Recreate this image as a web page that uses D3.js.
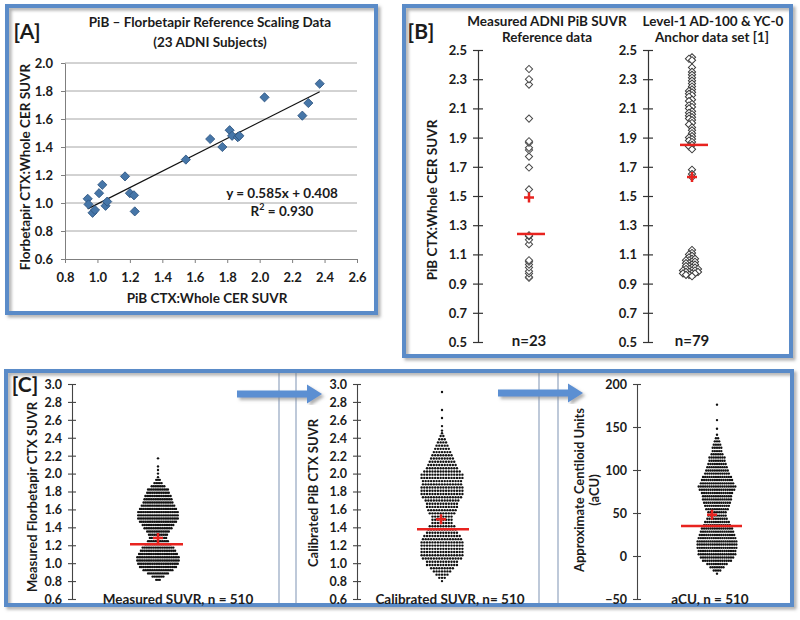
<!DOCTYPE html>
<html><head><meta charset="utf-8">
<script src="https://cdn.jsdelivr.net/npm/d3@7"></script>
<style>
html,body{margin:0;padding:0;background:#fff;}
svg{display:block;font-family:Lato,"Open Sans",sans-serif;font-weight:700;}
</style></head>
<body><svg id="c" width="800" height="620"></svg>
<script>
// ---------- DATA ----------
// Panel A: PiB vs Florbetapir (23 ADNI subjects)
const pibA = [0.94,0.945,0.97,0.985,1.01,1.03,1.05,1.06,1.17,1.20,1.225,1.23,1.545,1.695,1.77,1.815,1.83,1.865,1.875,2.03,2.263,2.30,2.37];
const fbpA = [1.03,0.99,0.93,0.95,1.07,1.13,0.98,1.01,1.19,1.07,1.055,0.94,1.31,1.457,1.40,1.52,1.48,1.47,1.48,1.755,1.624,1.714,1.852];
const fitCoef = [0.585, 0.408];   // slope, intercept
const aXTicks = [0.8,1.0,1.2,1.4,1.6,1.8,2.0,2.2,2.4,2.6];
const aYTicks = [0.6,0.8,1.0,1.2,1.4,1.6,1.8,2.0];

// Panel B
const refPiB = [0.94,0.945,0.97,0.985,1.01,1.03,1.05,1.06,1.17,1.20,1.225,1.23,1.545,1.695,1.77,1.815,1.83,1.865,1.875,2.03,2.263,2.30,2.37];
const anchorPiB = [2.45,2.44,2.43,2.38,2.35,2.33,2.31,2.29,2.27,2.25,2.23,2.22,2.21,2.20,2.19,2.18,2.16,2.15,2.13,2.12,
  2.11,2.10,2.08,2.07,2.06,2.05,2.04,2.03,2.02,2.00,1.99,1.97,1.95,1.93,1.91,1.90,1.89,1.88,1.87,1.85,1.84,1.82,
  1.68,1.65,1.63,
  1.13,1.11,1.10,1.09,1.08,1.07,1.07,1.06,1.06,1.05,1.05,1.04,1.04,1.03,1.03,1.02,1.02,1.01,1.01,1.00,
  1.00,1.00,0.99,0.99,0.99,0.98,0.98,0.98,0.97,0.97,0.97,0.96,0.96,0.95];
const bMedians = [1.24, 1.85];
const bMeans = [1.49, 1.63];
const bCounts = ["n=23", "n=79"];
const bTicks = [0.5,0.7,0.9,1.1,1.3,1.5,1.7,1.9,2.1,2.3,2.5];

// Panel C: binned beeswarm rows [value, number of subjects in row]
const measuredBins = [[2.17,1],[2.08,1],[2.04,1],[2.00,1],[1.96,1],
  [1.930,3],[1.894,5],[1.858,8],[1.822,12],[1.786,13],[1.750,15],[1.714,16],[1.678,17],[1.642,19],[1.606,21],
  [1.570,23],[1.534,23],[1.498,23],[1.462,21],[1.426,18],[1.390,16],[1.354,13],[1.318,11],[1.282,10],[1.246,12],
  [1.210,15],[1.174,18],[1.138,20],[1.102,22],[1.066,24],[1.030,24],[0.994,23],[0.958,21],[0.922,17],[0.886,12],
  [0.850,7],[0.814,3]];
const calibratedBins = [[2.91,1],[2.71,1],[2.62,1],[2.53,1],[2.48,1],[2.45,1],
  [2.420,2],[2.384,3],[2.348,4],[2.312,5],[2.276,6],[2.240,7],[2.204,8],[2.168,9],[2.132,10],[2.096,11],
  [2.060,12],[2.024,14],[1.988,16],[1.952,16],[1.916,15],[1.880,15],[1.844,16],[1.808,16],[1.772,16],[1.736,15],
  [1.700,13],[1.664,12],[1.628,12],[1.592,11],[1.556,10],[1.520,8],[1.484,8],[1.448,8],[1.412,10],[1.376,11],
  [1.340,12],[1.304,14],[1.268,15],[1.232,16],[1.196,16],[1.160,16],[1.124,16],[1.088,16],[1.052,15],[1.016,12],
  [0.980,12],[0.944,9],[0.908,7],[0.872,5],[0.836,3],[0.800,1]];
const acuBins = [[176,1],[158,1],[148,1],[141,1],
  [137,2],[133.3,3],[129.5,4],[125.8,5],[122,5],[118.3,6],[114.5,8],[110.8,8],[107,9],[103.3,10],
  [99.5,11],[95.8,12],[92,14],[88.3,15],[84.5,16],[80.8,18],[77,17],[73.3,15],[69.5,14],[65.8,14],
  [62,13],[58.3,12],[54.5,11],[50.8,9],[47,9],[43.3,10],[39.5,12],[35.8,13],[32,15],[28.3,16],
  [24.5,17],[20.8,18],[17,19],[13.3,19],[9.5,19],[5.8,18],[2,18],[-1.8,16],[-5.5,14],[-9.3,10],
  [-13,7],[-16.8,4],[-20.5,1]];
const cMedians = [1.21, 1.38, 35];
const cMeans = [1.28, 1.49, 48];
const cSuvrTicks = [0.6,0.8,1.0,1.2,1.4,1.6,1.8,2.0,2.2,2.4,2.6,2.8,3.0];
const cAcuTicks = [-50,0,50,100,150,200];

// ---------- DRAW ----------
const svg = d3.select("#c");
const INK = "#1b1b1b", BLUE = "#5a8bc8", RED = "#e8231f";
const defs = svg.append("defs");
const f = defs.append("filter").attr("id","sh").attr("x","-5%").attr("y","-5%").attr("width","112%").attr("height","112%");
f.append("feDropShadow").attr("dx",2.5).attr("dy",2.5).attr("stdDeviation",1.5).attr("flood-color","#7a7a7a").attr("flood-opacity",0.6);

function panel(x0,y0,x1,y1){
  svg.append("rect").attr("x",x0).attr("y",y0).attr("width",x1-x0).attr("height",y1-y0)
    .attr("fill","none").attr("stroke",BLUE).attr("stroke-width",4).attr("filter","url(#sh)");
}
function txt(x,y,s,size,opts={}){
  const t = svg.append("text").attr("x",x).attr("y",y).attr("font-size",size)
    .attr("text-anchor",opts.anchor||"middle").attr("dominant-baseline","central").attr("fill",INK).text(s);
  if(opts.rotate) t.attr("transform",`rotate(-90,${x},${y})`);
  return t;
}
function styleAxis(g, labelSize){
  g.attr("font-family",null).attr("font-size",null);
  g.selectAll("text").attr("font-size",labelSize).attr("fill",INK).attr("font-weight",700);
}
const diamond = (size)=>d3.symbol(d3.symbolSquare,size)();

// ===== Panel A =====
panel(7,6,376,313);
const xA = d3.scaleLinear([0.8,2.6],[65,357]);
const yA = d3.scaleLinear([0.6,2.0],[259,63]);
svg.append("g").selectAll("line").data(aYTicks.filter(d=>d>0.6)).join("line")
  .attr("x1",xA(0.8)).attr("x2",xA(2.6)).attr("y1",d=>yA(d)).attr("y2",d=>yA(d))
  .attr("stroke","#a6a6a6").attr("stroke-width",1);
const gAy = svg.append("g").attr("transform",`translate(${xA(0.8)},0)`)
  .call(d3.axisLeft(yA).tickValues(aYTicks).tickSize(4).tickSizeOuter(0).tickFormat(d3.format(".1f")));
gAy.selectAll("path,line").attr("stroke","#7f7f7f");
gAy.selectAll("text").attr("x",-12).attr("dy","0.35em");
styleAxis(gAy,13);
const gAx = svg.append("g").attr("transform",`translate(0,${yA(0.6)})`)
  .call(d3.axisBottom(xA).tickValues(aXTicks).tickSize(4).tickSizeOuter(0).tickFormat(d3.format(".1f")));
gAx.selectAll("path,line").attr("stroke","#7f7f7f");
gAx.selectAll("text").attr("y",18).attr("dy","0.35em");
styleAxis(gAx,13);
// fit line
const xr = d3.extent(pibA);
svg.append("line").attr("x1",xA(xr[0])).attr("y1",yA(fitCoef[0]*xr[0]+fitCoef[1]))
  .attr("x2",xA(xr[1])).attr("y2",yA(fitCoef[0]*xr[1]+fitCoef[1])).attr("stroke","#111").attr("stroke-width",1.2);
svg.append("g").selectAll("path").data(pibA.map((p,i)=>[p,fbpA[i]])).join("path")
  .attr("d",diamond(42)).attr("transform",d=>`translate(${xA(d[0])},${yA(d[1])}) rotate(45)`)
  .attr("fill","#4676a8").attr("stroke","#2d5480").attr("stroke-width",0.8);
txt(210,22,"PiB – Florbetapir Reference Scaling Data",13.5);
txt(210,42,"(23 ADNI Subjects)",13.5);
txt(27,30,"[A]",21);
txt(25,167,"Florbetapir CTX:Whole CER SUVR",13.5,{rotate:true});
txt(207,298,"PiB CTX:Whole CER SUVR",13.5);
txt(282,193,"y = 0.585x + 0.408",13.5);
const r2 = txt(282,211,"",13.5);
r2.append("tspan").text("R");
r2.append("tspan").attr("dy",-5).attr("font-size",9).text("2");
r2.append("tspan").attr("dy",5).text(" = 0.930");

// ===== Panel B =====
panel(404,6,791,356);
const yB = d3.scaleLinear([0.5,2.5],[342,50]);
const bAxisX = [478, 648];
const bColX = [529, 692];
bAxisX.forEach(ax=>{
  const g = svg.append("g").attr("transform",`translate(${ax},0)`)
    .call(d3.axisLeft(yB).tickValues(bTicks).tickSize(5).tickSizeOuter(0).tickFormat(d3.format(".1f")));
  g.selectAll("path,line").attr("stroke","#333").attr("stroke-width",1.2);
  g.selectAll(".tick line").attr("x1",5);
  g.selectAll("text").attr("x",-11).attr("dy","0.35em");
  styleAxis(g,13);
});
// column 1: single column
svg.append("g").selectAll("path").data(refPiB).join("path")
  .attr("d",diamond(26)).attr("transform",d=>`translate(${bColX[0]},${yB(d)}) rotate(45)`)
  .attr("fill","#fff").attr("stroke","#4a4a4a").attr("stroke-width",1);
// column 2: simple dodge
function dodge(vals, y, thr, step){
  const placed=[]; const offs=[0]; for(let j=1;j<10;j++) offs.push(-j*step,j*step);
  return vals.slice().sort((a,b)=>b-a).map(v=>{
    const py=y(v);
    for(const o of offs){ if(!placed.some(p=>p.o===o && Math.abs(p.y-py)<thr)){placed.push({o,y:py}); return {v,o};} }
    return {v,o:0};
  });
}
svg.append("g").selectAll("path").data(dodge(anchorPiB,yB,1.6,3)).join("path")
  .attr("d",diamond(26)).attr("transform",d=>`translate(${bColX[1]+d.o},${yB(d.v)}) rotate(45)`)
  .attr("fill","#fff").attr("stroke","#3a3a3a").attr("stroke-width",1);
// medians and means
bColX.forEach((cx,i)=>{
  svg.append("line").attr("x1",cx-12).attr("x2",cx+16).attr("y1",yB(bMedians[i])).attr("y2",yB(bMedians[i]))
    .attr("stroke",RED).attr("stroke-width",2.5);
  const my = yB(bMeans[i]);
  svg.append("path").attr("d",`M${cx-5},${my}H${cx+5}M${cx},${my-5}V${my+5}`).attr("stroke",RED).attr("stroke-width",2.5);
  txt(cx,340,bCounts[i],15);
});
txt(421,30,"[B]",21);
txt(547,21,"Measured ADNI PiB SUVR",13.5);
txt(547,37,"Reference data",13.5);
txt(713,21,"Level-1 AD-100 & YC-0",13.5);
txt(712,37,"Anchor data set [1]",13.5);
txt(432,200,"PiB CTX:Whole CER SUVR",13.5,{rotate:true});

// ===== Panel C =====
[279,296,539,558].forEach(x=>svg.append("line").attr("x1",x).attr("x2",x).attr("y1",373).attr("y2",603)
  .attr("stroke","#a8b7cc").attr("stroke-width",1.5));
panel(6,371,792,605);
const yC = d3.scaleLinear([0.6,3.0],[599,384]);
const yCU = d3.scaleLinear([-50,200],[599,384]);
const cAxes = [
  {ax:72, y:yC, ticks:cSuvrTicks, fmt:d3.format(".1f"), bins:measuredBins, cx:158, sp:1.8, lx:[130,183], px:158},
  {ax:357, y:yC, ticks:cSuvrTicks, fmt:d3.format(".1f"), bins:calibratedBins, cx:442, sp:2.72, lx:[417,469], px:441},
  {ax:637, y:yCU, ticks:cAcuTicks, fmt:d3.format("d"), bins:acuBins, cx:717, sp:2.15, lx:[681,742], px:712}
];
cAxes.forEach((c,i)=>{
  const g = svg.append("g").attr("transform",`translate(${c.ax},0)`)
    .call(d3.axisLeft(c.y).tickValues(c.ticks).tickSize(4).tickSizeOuter(0).tickFormat(c.fmt));
  g.selectAll("path,line").attr("stroke","#444").attr("stroke-width",1.1);
  g.selectAll(".tick line").attr("x1",4);
  g.selectAll("text").attr("x",-10).attr("dy","0.35em");
  styleAxis(g,12.5);
  const dots=[];
  c.bins.forEach(([v,n])=>{ for(let k=0;k<n;k++) dots.push({v, o:(k-(n-1)/2)*c.sp}); });
  svg.append("g").selectAll("circle").data(dots).join("circle")
    .attr("cx",d=>c.cx+d.o).attr("cy",d=>c.y(d.v)).attr("r",1.2).attr("fill","#111");
  svg.append("line").attr("x1",c.lx[0]).attr("x2",c.lx[1]).attr("y1",c.y(cMedians[i])).attr("y2",c.y(cMedians[i]))
    .attr("stroke",RED).attr("stroke-width",2.5);
  const my=c.y(cMeans[i]);
  svg.append("path").attr("d",`M${c.px-5},${my}H${c.px+5}M${c.px},${my-5}V${my+5}`).attr("stroke",RED).attr("stroke-width",2.5);
});
txt(25,383,"[C]",21);
txt(32,497,"Measured Florbetapir CTX SUVR",13,{rotate:true});
txt(313,493,"Calibrated PiB CTX SUVR",13,{rotate:true});
txt(579,490,"Approximate Centiloid Units",13,{rotate:true});
txt(594,490,"(aCU)",13,{rotate:true});
txt(178,599,"Measured SUVR, n = 510",13.5);
txt(450,599,"Calibrated SUVR, n= 510",13.5);
txt(710,599,"aCU, n = 510",13.5);

// arrows
function arrow(x0,x1,y){
  svg.append("path").attr("d",`M${x0},${y-3.5}H${x1-15}V${y-9.5}L${x1},${y}L${x1-15},${y+9.5}V${y+3.5}H${x0}Z`)
    .attr("fill","#5b8fd2").attr("filter","url(#sh)");
}
arrow(237,322,394);
arrow(498,583,393);
</script></body></html>
